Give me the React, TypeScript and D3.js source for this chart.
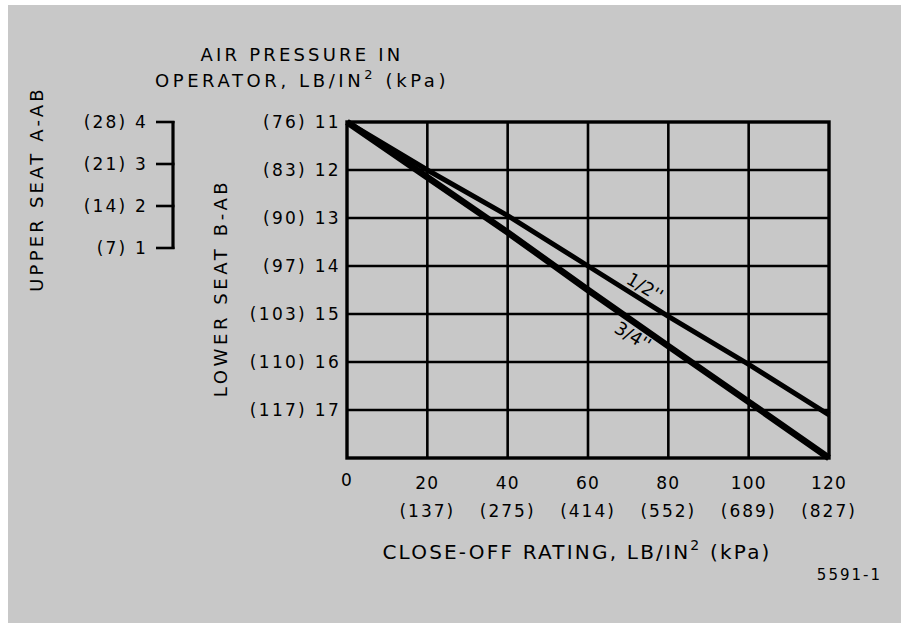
import React from "react";
import * as d3 from "d3";

const closeOff = [0, 20, 40, 60, 80, 100, 120];
const closeOffKpa = ["", "(137)", "(275)", "(414)", "(552)", "(689)", "(827)"];
const lowerSeat = [11, 12, 13, 14, 15, 16, 17];
const lowerSeatKpa = ["(76)", "(83)", "(90)", "(97)", "(103)", "(110)", "(117)"];
const upperSeat = [1, 2, 3, 4];
const upperSeatKpa = ["(7)", "(14)", "(21)", "(28)"];
const halfInch = [11, 12, 12.95, 14, 15.05, 16.05, 17.1];
const threeQuarterInch = [11, 12.15, 13.3, 14.5, 15.67, 16.83, 18];

const W = 901;
const H = 623;
const FONT = "'DejaVu Sans', sans-serif";

export default function App() {
  const x = d3.scaleLinear().domain([0, 120]).range([347, 829]);
  const y = d3.scaleLinear().domain([11, 18]).range([122, 458]);
  const yU = d3.scaleLinear().domain([1, 4]).range([248, 122]);

  const line = d3
    .line<[number, number]>()
    .x((d) => x(d[0]))
    .y((d) => y(d[1]));

  const halfPts: [number, number][] = closeOff.map((c, i) => [c, halfInch[i]]);
  const threePts: [number, number][] = closeOff.map((c, i) => [c, threeQuarterInch[i]]);

  const angle = (Math.atan2(y(17.1) - y(11), x(120) - x(0)) * 180) / Math.PI;

  return (
    <svg
      width={W}
      height={H}
      style={{ position: "absolute", left: 0, top: 0 }}
      fontFamily={FONT}
    >
      <rect x={0} y={0} width={W} height={H} fill="#ffffff" />
      <rect x={8} y={5} width={W - 8} height={H - 5} fill="#c8c8c8" />

      {/* Title */}
      <text x={302} y={61} fontSize={18} textAnchor="middle" letterSpacing={3.2} fill="#000">
        AIR PRESSURE IN
      </text>
      <text x={302} y={87} fontSize={18} textAnchor="middle" letterSpacing={3.6} fill="#000">
        OPERATOR, LB/IN
        <tspan dy={-8} fontSize={13}>2</tspan>
        <tspan dy={8}> (kPa)</tspan>
      </text>

      {/* Upper seat axis */}
      <text
        transform={`translate(43,189) rotate(-90)`}
        fontSize={18}
        textAnchor="middle"
        letterSpacing={3.2}
        fill="#000"
      >
        UPPER SEAT A-AB
      </text>
      <line x1={173} x2={173} y1={yU(4) - 1} y2={yU(1) + 1} stroke="#000" strokeWidth={3.2} />
      {upperSeat.map((v, i) => (
        <g key={"u" + v}>
          <line x1={156} x2={174.5} y1={yU(v)} y2={yU(v)} stroke="#000" strokeWidth={2.6} />
          <text
            x={148}
            y={yU(v)}
            fontSize={17}
            textAnchor="end"
            dominantBaseline="central"
            letterSpacing={2.2}
            fill="#000"
          >
            {upperSeatKpa[i] + " " + v}
          </text>
        </g>
      ))}

      {/* Lower seat axis label */}
      <text
        transform={`translate(227,288) rotate(-90)`}
        fontSize={18}
        textAnchor="middle"
        letterSpacing={3.6}
        fill="#000"
      >
        LOWER SEAT B-AB
      </text>
      {lowerSeat.map((v, i) => (
        <text
          key={"l" + v}
          x={341}
          y={y(v)}
          fontSize={17}
          textAnchor="end"
          dominantBaseline="central"
          letterSpacing={2.3}
          fill="#000"
        >
          {lowerSeatKpa[i] + " " + v}
        </text>
      ))}

      {/* Grid */}
      {lowerSeat.slice(1).map((v) => (
        <line key={"gh" + v} x1={x(0)} x2={x(120)} y1={y(v)} y2={y(v)} stroke="#000" strokeWidth={2.6} />
      ))}
      {closeOff.slice(1, -1).map((v) => (
        <line key={"gv" + v} x1={x(v)} x2={x(v)} y1={y(11)} y2={y(18)} stroke="#000" strokeWidth={2.6} />
      ))}
      <rect
        x={x(0)}
        y={y(11)}
        width={x(120) - x(0)}
        height={y(18) - y(11)}
        fill="none"
        stroke="#000"
        strokeWidth={3.4}
      />

      {/* Curves */}
      <path d={line(halfPts) || ""} fill="none" stroke="#000" strokeWidth={5} />
      <path d={line(threePts) || ""} fill="none" stroke="#000" strokeWidth={6.5} />

      <text
        transform={`translate(645,287) rotate(${angle})`}
        fontSize={18}
        textAnchor="middle"
        dominantBaseline="central"
        fill="#000"
      >
        1/2''
      </text>
      <text
        transform={`translate(633,336) rotate(${angle})`}
        fontSize={18}
        textAnchor="middle"
        dominantBaseline="central"
        fill="#000"
      >
        3/4''
      </text>

      {/* X ticks */}
      {closeOff.map((v, i) => (
        <g key={"x" + v}>
          <text
            x={x(v)}
            y={v === 0 ? 480 : 483}
            fontSize={17}
            textAnchor="middle"
            dominantBaseline="central"
            letterSpacing={1.2}
            fill="#000"
          >
            {v}
          </text>
          {closeOffKpa[i] && (
            <text
              x={x(v)}
              y={511}
              fontSize={17}
              textAnchor="middle"
              dominantBaseline="central"
              letterSpacing={2}
              fill="#000"
            >
              {closeOffKpa[i]}
            </text>
          )}
        </g>
      ))}

      {/* X label */}
      <text x={577} y={559} fontSize={20} textAnchor="middle" letterSpacing={2.2} fill="#000">
        CLOSE-OFF RATING, LB/IN
        <tspan dy={-9} fontSize={14}>2</tspan>
        <tspan dy={9}> (kPa)</tspan>
      </text>

      <text x={882} y={580} fontSize={15} textAnchor="end" letterSpacing={2} fill="#000">
        5591-1
      </text>
    </svg>
  );
}
